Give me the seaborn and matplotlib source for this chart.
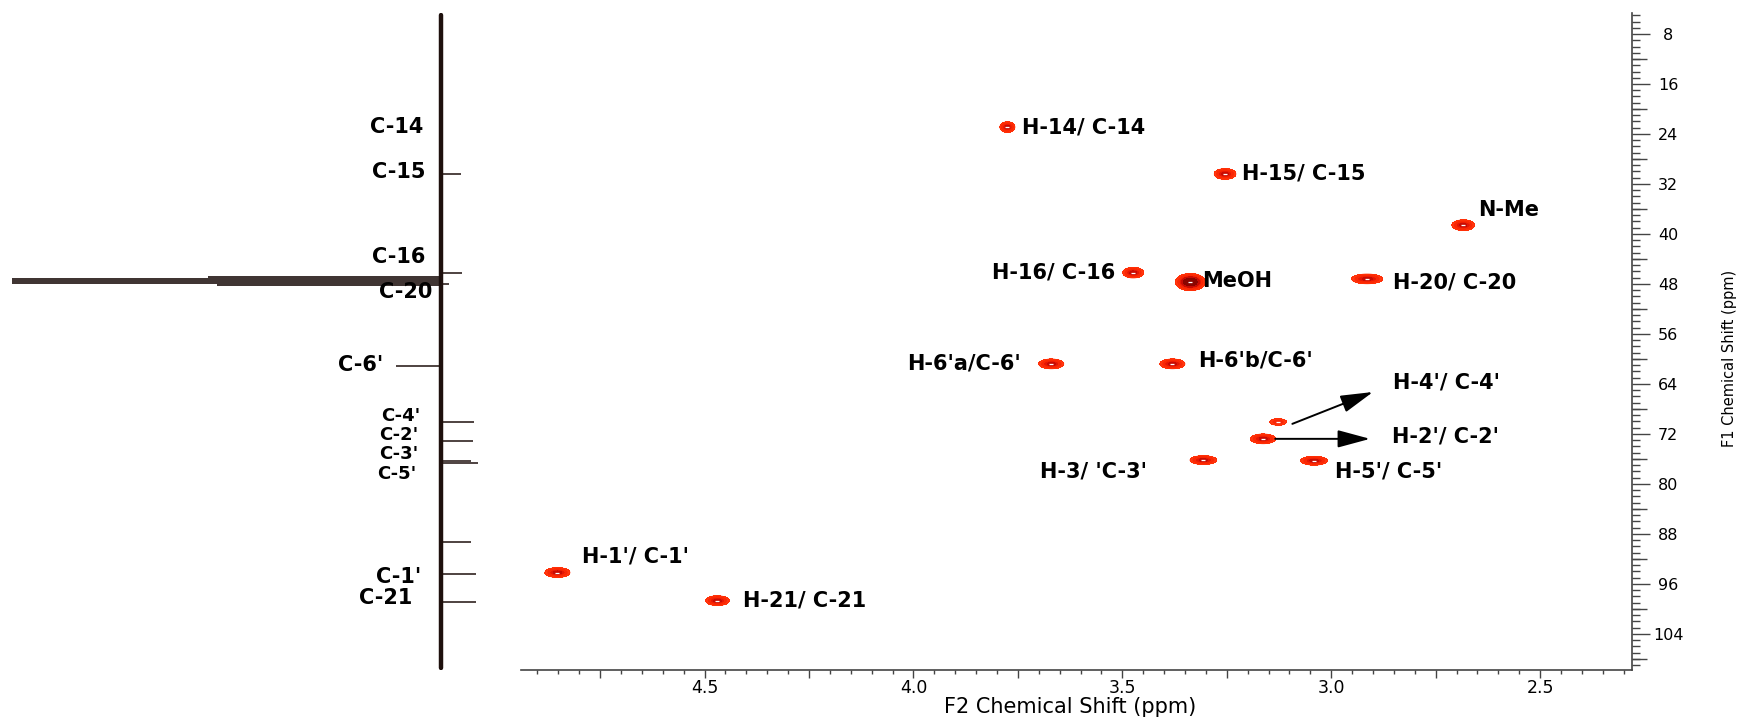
import numpy as np
import matplotlib
matplotlib.use("Agg")
import matplotlib.pyplot as plt
from matplotlib.ticker import MultipleLocator, FuncFormatter
import seaborn as sns

# HSQC cross peaks: F2 = 1H shift, F1 = 13C shift (ppm)
peak_h = [3.775, 3.254, 2.684, 3.474, 3.337, 2.914, 3.67, 3.38,
          3.127, 3.163, 3.306, 3.041, 4.852, 4.469]
peak_c = [22.9, 30.4, 38.6, 46.2, 47.7, 47.2, 60.8, 60.8,
          70.1, 72.8, 76.2, 76.3, 94.2, 98.7]
# half line widths (ppm) and relative intensity
peak_wh = [0.018, 0.026, 0.027, 0.025, 0.030, 0.037, 0.030, 0.030,
           0.025, 0.030, 0.032, 0.032, 0.030, 0.028]
peak_wc = [0.85, 0.85, 0.85, 0.85, 1.15, 0.78, 0.78, 0.78,
           0.66, 0.78, 0.7, 0.7, 0.78, 0.78]
peak_amp = [1, 1, 1, 1, 2.4, 1, 1, 1, 0.45, 1, 1, 1, 1, 1]

# assignment labels in the 2D map
lab_text = ["H-14/ C-14", "H-15/ C-15", "N-Me", "H-16/ C-16", "MeOH", "H-20/ C-20",
            "H-6'a/C-6'", "H-6'b/C-6'", "H-4'/ C-4'", "H-2'/ C-2'", "H-3/ 'C-3'",
            "H-5'/ C-5'", "H-1'/ C-1'", "H-21/ C-21"]
lab_h = [3.739, 3.213, 2.648, 3.517, 3.309, 2.852, 3.742, 3.318,
         2.852, 2.854, 3.440, 2.990, 4.794, 4.409]
lab_c = [22.9, 30.4, 36.2, 46.2, 47.5, 47.8, 60.7, 60.2,
         63.8, 72.5, 78.1, 78.1, 91.7, 98.7]
lab_ha = ["left", "left", "left", "right", "left", "left", "right", "left",
          "left", "left", "right", "left", "left", "left"]

# 13C projection (left)
c_ppm = [30.4, 46.2, 48.0, 61.1, 70.1, 73.1, 76.3, 76.6, 89.3, 94.4, 98.9]
c_int = [-20, -21, -8, 45, -33, -32, -30, -37, -30, -35, -35]
solv_ppm = [46.9, 47.2, 47.5, 47.8, 48.2]
solv_int = [232, 428, 428, 428, 223]
c_labels = ["C-14", "C-15", "C-16", "C-20", "C-6'", "C-4'", "C-2'", "C-3'", "C-5'", "C-1'", "C-21"]
c_label_ppm = [22.9, 30.1, 43.7, 49.3, 61.0, 69.1, 72.2, 75.3, 78.4, 94.9, 98.2]
c_label_gap = [17, 15, 15, 8, 57, 20, 22, 22, 24, 19, 28]
c_label_size = [15, 15, 15, 15, 15, 13, 13, 13, 13, 15, 15]

sns.set_theme(style="white")
plt.rcParams["font.family"] = ["DejaVu Sans"]
plt.rcParams["text.color"] = "black"
plt.rcParams["axes.labelcolor"] = "black"

fig = plt.figure(figsize=(17.55, 7.2), dpi=100)
pos = [520.7 / 1755, 50 / 720, (1632 - 520.7) / 1755, (670 - 13.4) / 720]
ax = fig.add_axes(pos)
xlim = (4.94, 2.28)
ylim = (109.8, 4.7)

gx = np.linspace(xlim[0], xlim[1], 1300)
gy = np.linspace(ylim[1], ylim[0], 800)
X, Y = np.meshgrid(gx, gy)
Z = np.zeros_like(X)
for h, c, wh, wc, a in zip(peak_h, peak_c, peak_wh, peak_wc, peak_amp):
    Z += a * np.exp(-0.5 * (((X - h) / (wh / 2.06)) ** 2 + ((Y - c) / (wc / 2.06)) ** 2))
ax.contourf(X, Y, Z, levels=[0.12, 0.3, 0.55, 0.8, 1.3, 100],
            colors=["#ff3a14", "#f5260a", "#e41605", "#c80b02", "#8a0500"])
ax.contour(X, Y, Z, levels=[0.12, 0.25, 0.45],
           colors="#ff2a00", linewidths=0.5)
sns.scatterplot(x=peak_h, y=peak_c, marker="_", s=10, color="white",
                linewidth=0.9, ax=ax, zorder=3, legend=False)

for t, h, c, ha in zip(lab_text, lab_h, lab_c, lab_ha):
    ax.text(h, c, t, ha=ha, va="center", fontsize=15, fontweight="bold", zorder=5)

arrow = dict(arrowstyle="-|>,head_length=1.0,head_width=0.27", color="black",
             lw=1.4, mutation_scale=20, shrinkA=0, shrinkB=0)
ax.annotate("", xy=(2.900, 65.3), xytext=(3.093, 70.4), arrowprops=arrow)
ax.annotate("", xy=(2.907, 72.8), xytext=(3.134, 72.8), arrowprops=arrow)

ax.set_xlim(*xlim)
ax.set_ylim(*ylim)
for s in ["top", "left"]:
    ax.spines[s].set_visible(False)
for s in ["bottom", "right"]:
    ax.spines[s].set_color("#444444")
    ax.spines[s].set_linewidth(1.2)

ax.xaxis.set_major_locator(MultipleLocator(0.25))
ax.xaxis.set_minor_locator(MultipleLocator(0.05))
ax.xaxis.set_major_formatter(FuncFormatter(
    lambda v, p: f"{v:.1f}" if abs(v * 2 - round(v * 2)) < 1e-6 else ""))
ax.tick_params(axis="x", which="major", direction="out", length=5.8, width=1,
               color="#444444", labelcolor="black", labelsize=12.5, pad=1, bottom=True)
ax.tick_params(axis="x", which="minor", direction="out", length=2.9, width=1,
               color="#444444", bottom=True)

ax.yaxis.tick_right()
ax.yaxis.set_major_locator(MultipleLocator(8))
ax.yaxis.set_minor_locator(MultipleLocator(1))
ax.yaxis.set_major_formatter(FuncFormatter(lambda v, p: f"{v:.0f}"))
ax.tick_params(axis="y", which="major", direction="out", length=13, width=1,
               color="#444444", labelcolor="black", labelsize=11.5, pad=13,
               right=True, left=False)
ax.tick_params(axis="y", which="minor", direction="out", length=5.8, width=1,
               color="#444444", right=True, left=False)
for tk in ax.yaxis.get_major_ticks():
    tk.label2.set_horizontalalignment("center")

ax.set_xlabel("F2 Chemical Shift (ppm)", fontsize=15)
ax.xaxis.label.set_va("center")
ax.xaxis.set_label_coords(0.4946, -0.0564)
ax.set_ylabel("F1 Chemical Shift (ppm)", fontsize=10.5)
ax.yaxis.set_label_position("right")
ax.yaxis.label.set_va("center")
ax.yaxis.set_label_coords(1.0873, 0.475)

# medium ticks every 4 ppm on the F1 axis
axm = fig.add_axes(pos, frameon=False)
axm.set_ylim(*ylim)
axm.set_xticks([])
axm.yaxis.tick_right()
axm.set_yticks(np.arange(12, 109, 8))
axm.tick_params(axis="y", direction="out", length=10.5, width=1, color="#444444",
                labelright=False, labelleft=False, left=False, right=True)

# 1D 13C trace on the left
ax1 = fig.add_axes([0, pos[1], pos[0], pos[3]])
ax1.set_xlim(440, -80)
ax1.set_ylim(*ylim)
ax1.axis("off")
sns.lineplot(x=[0, 0], y=[4.9, 109.4], orient="y", color="#1e100d", lw=3.2, ax=ax1)
ax1.hlines(c_ppm, 0, c_int, color="#1e100d", lw=1.1)
ax1.hlines(solv_ppm, 0, solv_int, color="#1a0d0b", lw=1.2)
for name, ppm, gap, fs in zip(c_labels, c_label_ppm, c_label_gap, c_label_size):
    ax1.text(gap, ppm, name, ha="right", va="center", fontsize=fs, fontweight="bold")

fig.savefig("out.png", dpi=100)
